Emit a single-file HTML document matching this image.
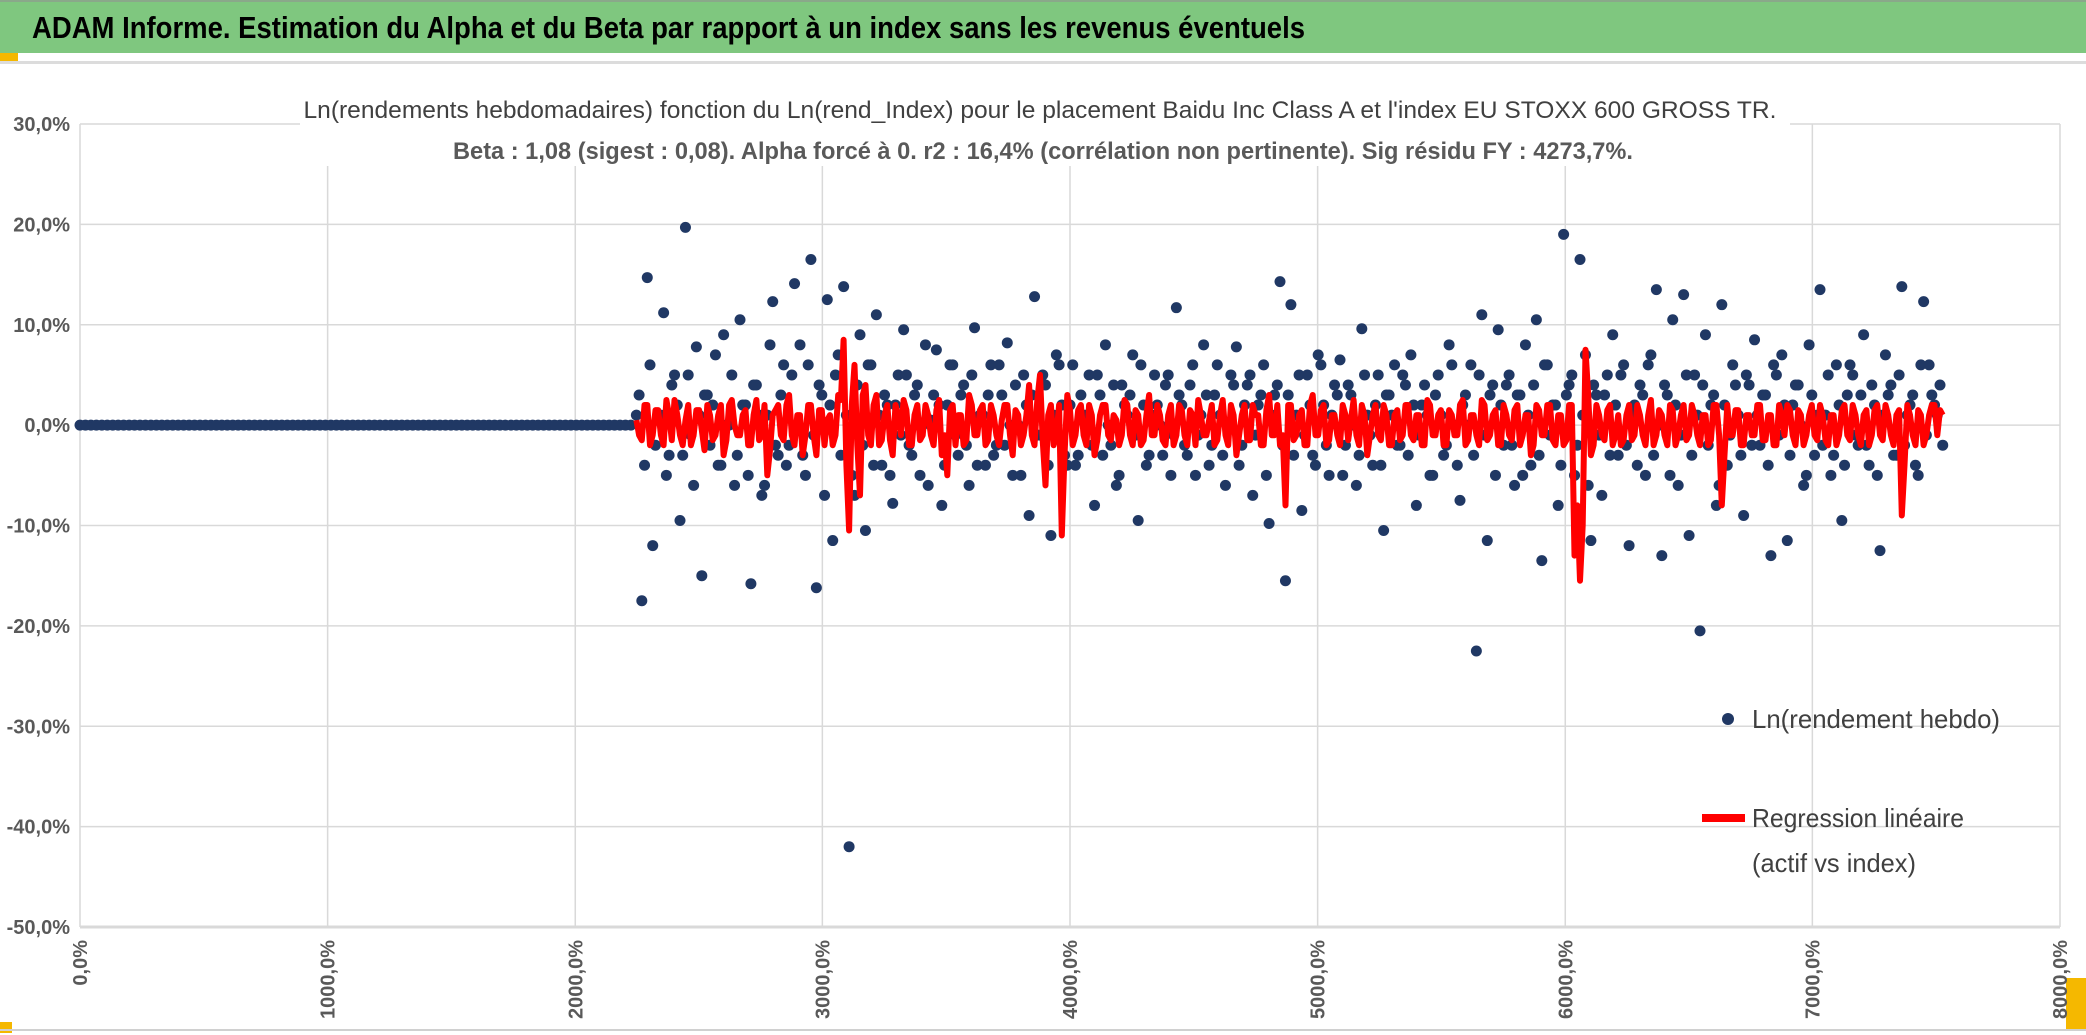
<!DOCTYPE html>
<html><head><meta charset="utf-8">
<style>
html,body{margin:0;padding:0;background:#fff;}
svg{display:block;font-family:"Liberation Sans Narrow","Liberation Sans",sans-serif;}
</style></head>
<body>
<svg id="chart" width="2086" height="1035" viewBox="0 0 2086 1035" xmlns="http://www.w3.org/2000/svg">
<defs><clipPath id="xclip"><rect x="0" y="930" width="2086" height="98"/></clipPath></defs>
<rect x="0" y="0" width="2086" height="53" fill="#7fc77f"/>
<rect x="0" y="0" width="2086" height="2" fill="#8aa88a"/>
<text x="32" y="38" font-size="31" font-weight="bold" fill="#000" textLength="1273" lengthAdjust="spacingAndGlyphs">ADAM Informe. Estimation du Alpha et du Beta par rapport à un index sans les revenus éventuels</text>
<rect x="0" y="53" width="18" height="8" fill="#f5b800"/>
<rect x="0" y="61" width="2086" height="3" fill="#dcdcdc"/>
<rect x="2066" y="978" width="20" height="52" fill="#f5b800"/>
<rect x="0" y="1022" width="12" height="11" fill="#f5b800"/>
<rect x="0" y="1029" width="2086" height="2" fill="#d0d0d0"/>
<g id="grid"></g>
<g id="yaxis"></g>
<g id="xaxis" clip-path="url(#xclip)"></g>
<g id="zeros"></g>
<g id="dots"></g>
<g id="reg"></g>
<rect x="300" y="90" width="1490" height="76" fill="#fff"/>
<text x="1040" y="118" text-anchor="middle" font-size="24" fill="#404040" textLength="1473" lengthAdjust="spacingAndGlyphs">Ln(rendements hebdomadaires) fonction du Ln(rend_Index) pour le placement Baidu Inc Class A et l'index EU STOXX 600 GROSS TR.</text>
<text x="1043" y="159" text-anchor="middle" font-size="24" font-weight="bold" fill="#595959" textLength="1180" lengthAdjust="spacingAndGlyphs">Beta : 1,08 (sigest : 0,08). Alpha forcé à 0. r2 : 16,4% (corrélation non pertinente). Sig résidu FY : 4273,7%.</text>
<g>
<circle cx="1728" cy="719" r="6" fill="#203864"/>
<text x="1752" y="728" font-size="26" fill="#404040" textLength="248" lengthAdjust="spacingAndGlyphs">Ln(rendement hebdo)</text>
<line x1="1702" y1="818" x2="1745" y2="818" stroke="#ff0000" stroke-width="8"/>
<text x="1752" y="827" font-size="26" fill="#404040" textLength="212" lengthAdjust="spacingAndGlyphs">Regression linéaire</text>
<text x="1752" y="872" font-size="26" fill="#404040" textLength="164" lengthAdjust="spacingAndGlyphs">(actif vs index)</text>
</g>
</svg>
<script>
const yTicks = [30,20,10,0,-10,-20,-30,-40,-50];
const yTickLabels = ["30,0%","20,0%","10,0%","0,0%","-10,0%","-20,0%","-30,0%","-40,0%","-50,0%"];
const xTicks = [0,45.4,90.8,136.1,181.5,226.9,272.3,317.6,363];
const xTickLabels = ["0,0%","1000,0%","2000,0%","3000,0%","4000,0%","5000,0%","6000,0%","7000,0%","8000,0%"];
const zeroCount = 102;
const assetReturns = [
1,-17.5,14.7,-12,0.5,11.2,-3,5,-9.5,19.7,-1,7.8,-15,3,2,-4,9,0,-6,10.5,
2,-15.8,4,-7,1,12.3,-3,6,-2,14.1,8,-5,16.5,-16.2,3,12.5,-11.5,7,13.8,-42,
-7,9,-10.5,6,11,-4,2,-7.8,5,9.5,-2,3,-5,8,0.5,7.5,-8,2,6,-3,
4,-6,9.7,1,-4,6,-2,3,8.2,-5,0,5,-9,12.8,-1,4,-11,7,2,-4,
6,-3,1,5,-8,3,8,-2,-6,4,1,7,-9.5,2,-3,5,0,4,-5,11.7,
2,-3,6,-1,8,-4,3,1,-6,5,7.8,-2,4,-7,2,6,-9.8,3,14.3,-15.5,
12,1,-8.5,5,-3,7,2,-5,4,6.5,-2,3,-6,9.6,1,-4,5,-10.5,3,6,
-2,4,7,-8,2,1,-5,5,-3,8,0,-7.5,3,6,-22.5,11,-11.5,4,9.5,-2,
5,-6,3,8,-4,10.5,-13.5,6,2,-8,19,4,-5,16.5,7,-11.5,3,-7,5,9,
-3,6,-12,2,4,-5,7,13.5,-13,3,10.5,-6,13,-11,5,-20.5,9,2,-8,12,
-4,6,1,-9,4,8.5,-2,3,-13,5,7,-11.5,2,4,-6,8,-3,13.5,1,-5,
6,-9.5,3,5,-2,9,-4,2,-12.5,7,4,-3,13.8,1,3,-5,12.3,6,2,4];
const assetReturnsB = [
3,-4,6,-2,1,-5,4,2,-3,5,-6,1,3,-2,7,-4,0,5,-3,2,
-5,4,1,-6,8,-2,3,-4,5,0,-3,6,-1,4,-7,2,5,-3,1,-5,
4,-2,6,-4,1,3,-5,2,-1,5,-3,4,0,-6,3,2,-4,6,-1,3,
-2,5,-4,1,3,-3,6,-2,0,4,-5,2,3,-1,5,-4,1,6,-3,2,
-4,3,1,-2,5,-3,0,4,-5,2,3,-1,6,-4,1,2,-3,5,-1,3,
-2,4,-5,1,3,-2,6,-3,0,4,-4,2,5,-1,3,-5,1,4,-2,3,
-3,5,-1,2,-4,6,-2,1,3,-5,4,0,-3,5,-1,2,-4,3,1,-2,
5,-3,2,-1,4,-5,3,1,-2,6,-4,2,0,-3,5,-1,3,-5,2,4,
-2,3,-5,1,4,-3,6,-1,2,-4,3,5,-2,1,-6,4,-1,3,-3,2,
5,-2,1,-4,3,6,-3,0,4,-5,2,-1,5,-3,1,4,-2,3,-6,2,
-1,4,-3,5,-2,1,3,-4,6,-1,2,-3,4,0,-5,3,1,-2,5,-3,
2,-4,6,-1,3,-2,4,-5,1,3,-3,5,-2,2,-4,6,-1,3,1,-2];
const regressionValues = [
0.5,-1.5,2,-1,1.5,-2,1,2.5,-1,0.5,-2,1.5,-0.5,2,-1.5,1,-3,2,0,-1,
1.5,-2,2.5,-1,-5,1,2,-1.5,3,-2,1,-1,2,-3,1.5,0.5,-2,3,8.5,-10.5,
6,-7,4,-2,3,-1.5,2,-3,1,2.5,-2,1,-1.5,2,-1,1.5,-3,-5,2,1,
-2,3,-1,1.5,-2,2,-1,0.5,2,-3,1,-1,4,-2,5,-6,2,-1,-11,3,
-2,1.5,-1,2,-3,1,2,-1.5,0.5,-1,2,-2,1,-1.5,3,-1,1,-2,2,-1,
1.5,-2,1,2.5,-1,0.5,-2,1,-1,2,-3,1,-1.5,2,1,-2,3,-1,-2,-8,
2,-1,1.5,-2,3,-1,2,-1.5,1,-2,1,0.5,-1,2,-3,1,-1,2,-2,1,
-1.5,2,-1,1,-2,2.5,-1,1,-2,1.5,-1,2,-2,1,-1,2.5,-1.5,1,-2,2,
-1,1.5,-2,1,-3,2,-1,2,-1.5,1,-2,2,-13,-15.5,7.5,-3,2,-1,1.5,-2,
1,-1.5,2,-1,1,-2,2.5,-1,1,-2,1.5,-1,2,-1,1,-2,1,-1.5,2,-8,
2,-1,1.5,-2,1,-1,2,-1.5,1,-2,1,2,-1,1.5,-2,1,-1,2,-1.5,1,
-2,1.5,-1,2,-1,1,-2,1.5,-1,2,-1,1,-9,2,-1,1.5,-2,1,2,1.5];
const regressionValuesB = [
-1,2,-2,1.5,-1,2.5,-1.5,1,-2,2,-1,1.5,-2.5,1,-1,2,-1.5,2.5,-1,1,
-2,1,-1.5,2,-2.5,1.5,-1,2,-1,1,-3,2,-1,1.5,-2,1,-1,2.5,-4,2,
-2,3,-1,2,-2,1,-1.5,2,-1,1.5,-2,2,-1,1,-2,2.5,-1,1.5,-2,1,
-1.5,2,-1,2,-1.5,1,-2,2,-1,1.5,-2,1,-1,2.5,-1.5,1,-2,2,-3,1.5,
-1,2,-2,1,-1.5,2,-1,1,-2,2.5,-1,1.5,-2,1,-1,2,-1.5,1,-2,2,
-1,1.5,-2,1,-1,2,-1.5,2.5,-2,1,-1,2,-1.5,1,-2,1.5,-1,2,-1,2,
-1.5,1,-2,2,-1,1.5,-2,1,-1,2,-1.5,2.5,-2,1,-1,2,-1.5,1,-2,1.5,
-1,2,-1.5,1,-2,2,-1,1.5,-2,1,-1,2.5,-1.5,1,-2,2,-1,1.5,-2,1,
-1.5,2,-1,1,-2,1.5,-1,2,-2,1,-1.5,2,-8,-10,3,-2,1,-1.5,2,-1,
-2,1,-1.5,2,-1,1,-2,1.5,-1,2,-2,1,-1.5,2,-1,1,-2,2,-1,-3,
-1,1.5,-2,1,-1,2,-1.5,1,-2,2,-1,1.5,-2,1,-1,2,-1.5,1,-2,1,
-1,2,-1.5,1,-2,1.5,-1,2,-1.5,1,-2,1.5,-4,1,-2,1,-1,2,-1,1];

const NS="http://www.w3.org/2000/svg";
const L=80,R=2060,T=124,B=927,XMAX=363;
function xs(v){return L+(v/XMAX)*(R-L);}
function ys(v){return T+(30-v)/80*(B-T);}
function mk(tag,attrs,parent){const e=document.createElementNS(NS,tag);for(const k in attrs)e.setAttribute(k,attrs[k]);parent.appendChild(e);return e;}
const grid=document.getElementById('grid'),ya=document.getElementById('yaxis'),xa=document.getElementById('xaxis');
yTicks.forEach((t,i)=>{
  const ln=mk('line',{x1:L,x2:R,y1:ys(t),y2:ys(t),stroke:'#d9d9d9','stroke-width':(t===-50?3:1.5)},grid);
  
  
  const tx=mk('text',{x:70,y:ys(t)+7,'text-anchor':'end','font-size':20,'font-weight':'bold',fill:'#595959'},ya);
  tx.textContent=yTickLabels[i];
  
  
});
xTicks.forEach((t,i)=>{
  const ln=mk('line',{x1:xs(t),x2:xs(t),y1:T,y2:B,stroke:'#d9d9d9','stroke-width':1.5},grid);
  
  
  const x=xs(t)+7;
  const tx=mk('text',{x:x,y:940,'text-anchor':'end','font-size':20,'font-weight':'bold',fill:'#595959',transform:'rotate(-90 '+x+' 940)'},xa);
  tx.textContent=xTickLabels[i];
  
  
});
const zg=document.getElementById('zeros');
for(let i=0;i<zeroCount;i++){
  const c=mk('circle',{cx:xs(i),cy:ys(0),r:5.5,fill:'#203864'},zg);
  
  
}
const dg=document.getElementById('dots');
assetReturns.forEach((v,i)=>{
  const c=mk('circle',{cx:xs(zeroCount+i),cy:ys(v),r:5.5,fill:'#203864'},dg);
  
  
});
assetReturnsB.forEach((v,i)=>{
  const c=mk('circle',{cx:xs(zeroCount+i+0.5),cy:ys(v),r:5.5,fill:'#203864'},dg);
  
  
});
const rg=document.getElementById('reg');
const pts=[];
regressionValues.forEach((v,i)=>{
  pts.push(xs(zeroCount+i).toFixed(1)+','+ys(v).toFixed(1));
  if(i<regressionValuesB.length) pts.push(xs(zeroCount+i+0.5).toFixed(1)+','+ys(regressionValuesB[i]).toFixed(1));
});
const pl=mk('polyline',{points:pts.join(' '),fill:'none',stroke:'#ff0000','stroke-width':6,'stroke-linejoin':'round'},rg);


</script>
</body></html>
